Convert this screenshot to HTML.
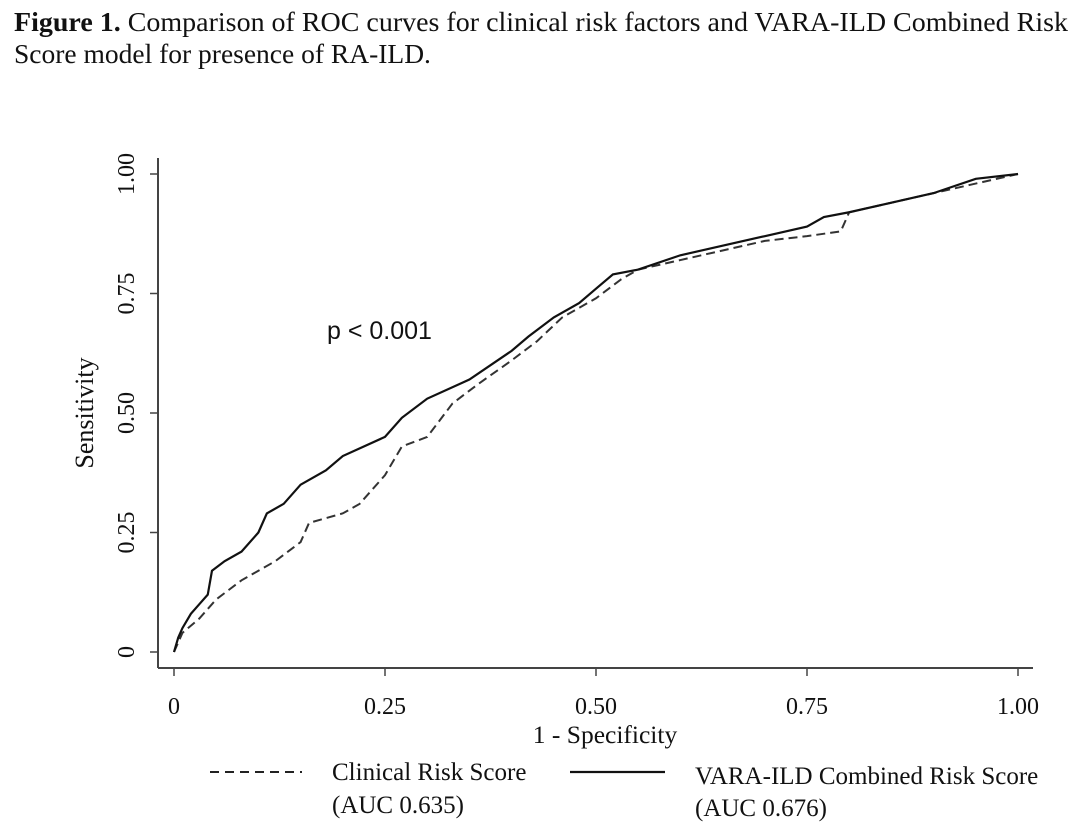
<!DOCTYPE html>
<html><head><meta charset="utf-8">
<style>
body{margin:0;background:#fff;width:1083px;height:838px;overflow:hidden}
svg{display:block}
.serif{font-family:"Liberation Serif",serif;fill:#111}
</style></head>
<body>
<svg width="1083" height="838">
<text x="14" y="31" class="serif" font-size="27.5" textLength="1054" lengthAdjust="spacingAndGlyphs"><tspan font-weight="bold">Figure 1.</tspan> Comparison of ROC curves for clinical risk factors and VARA-ILD Combined Risk</text>
<text x="14" y="63" class="serif" font-size="27.5">Score model for presence of RA-ILD.</text>
<g id="axes"></g>
<g id="curves"></g>
<text x="327" y="339" font-family="Liberation Sans,sans-serif" font-size="25" fill="#111">p &lt; 0.001</text>
<text x="605" y="743" class="serif" font-size="25.5" text-anchor="middle">1 - Specificity</text>
<text transform="translate(93,413) rotate(-90)" class="serif" font-size="26" text-anchor="middle">Sensitivity</text>
<g>
<line x1="210" y1="772" x2="302" y2="772" stroke="#222" stroke-width="2" stroke-dasharray="9,6"/>
<text x="332" y="780" class="serif" font-size="25">Clinical Risk Score</text>
<text x="332" y="813" class="serif" font-size="25">(AUC 0.635)</text>
<line x1="570" y1="772" x2="665" y2="772" stroke="#111" stroke-width="2.2"/>
<text x="695" y="784" class="serif" font-size="25">VARA-ILD Combined Risk Score</text>
<text x="695" y="816" class="serif" font-size="25">(AUC 0.676)</text>
</g>
</svg>
<script>
const xTicks=[0,0.25,0.5,0.75,1];
const xTickLabels=["0","0.25","0.50","0.75","1.00"];
const yTicks=[0,0.25,0.5,0.75,1];
const yTickLabels=["0","0.25","0.50","0.75","1.00"];
const varaFpr=[0,0.005,0.01,0.02,0.03,0.04,0.045,0.06,0.08,0.1,0.11,0.13,0.15,0.18,0.2,0.25,0.27,0.3,0.35,0.4,0.42,0.45,0.48,0.5,0.52,0.55,0.6,0.65,0.7,0.75,0.77,0.8,0.85,0.9,0.95,1];
const varaTpr=[0,0.03,0.05,0.08,0.10,0.12,0.17,0.19,0.21,0.25,0.29,0.31,0.35,0.38,0.41,0.45,0.49,0.53,0.57,0.63,0.66,0.70,0.73,0.76,0.79,0.80,0.83,0.85,0.87,0.89,0.91,0.92,0.94,0.96,0.99,1];
const clinFpr=[0,0.01,0.03,0.05,0.08,0.1,0.12,0.15,0.16,0.2,0.22,0.25,0.27,0.3,0.33,0.36,0.4,0.43,0.46,0.5,0.53,0.55,0.6,0.65,0.7,0.75,0.79,0.8,0.85,0.9,1];
const clinTpr=[0,0.04,0.07,0.11,0.15,0.17,0.19,0.23,0.27,0.29,0.31,0.37,0.43,0.45,0.52,0.56,0.61,0.65,0.70,0.74,0.78,0.80,0.82,0.84,0.86,0.87,0.88,0.92,0.94,0.96,1];
const NS="http://www.w3.org/2000/svg";
const X0=174,X1=1018,Y0=652,Y1=174;
const sx=v=>X0+v*(X1-X0), sy=v=>Y0-v*(Y0-Y1);
const axes=document.getElementById('axes');
function mk(t,a,p){const e=document.createElementNS(NS,t);for(const k in a)e.setAttribute(k,a[k]);(p||axes).appendChild(e);return e;}
const yl=mk('line',{x1:158,y1:158,x2:158,y2:668,stroke:'#444','stroke-width':2});


const xl=mk('line',{x1:158,y1:668,x2:1033,y2:668,stroke:'#444','stroke-width':2});


xTicks.forEach((v,i)=>{
 const t=mk('line',{x1:sx(v),y1:668,x2:sx(v),y2:676,stroke:'#444','stroke-width':1.5});
 
 
 const l=mk('text',{x:sx(v),y:714,'text-anchor':'middle','font-size':24,'class':'serif'});
 l.textContent=xTickLabels[i];
 
 
});
yTicks.forEach((v,i)=>{
 const t=mk('line',{x1:150,y1:sy(v),x2:158,y2:sy(v),stroke:'#444','stroke-width':1.5});
 
 
 const l=mk('text',{transform:`translate(134,${sy(v)}) rotate(-90)`,'text-anchor':'middle','font-size':24,'class':'serif'});
 l.textContent=yTickLabels[i];
 
 
});
const curves=document.getElementById('curves');
function linePath(xs,ys){let d=`M${sx(xs[0])},${sy(ys[0])}`;for(let i=1;i<xs.length;i++){d+=`L${sx(xs[i])},${sy(ys[i])}`;}return d;}
const c=mk('path',{d:linePath(clinFpr,clinTpr),fill:'none',stroke:'#333','stroke-width':2,'stroke-dasharray':'9,5'},curves);


const v=mk('path',{d:linePath(varaFpr,varaTpr),fill:'none',stroke:'#111','stroke-width':2.2},curves);


</script>
</body></html>
